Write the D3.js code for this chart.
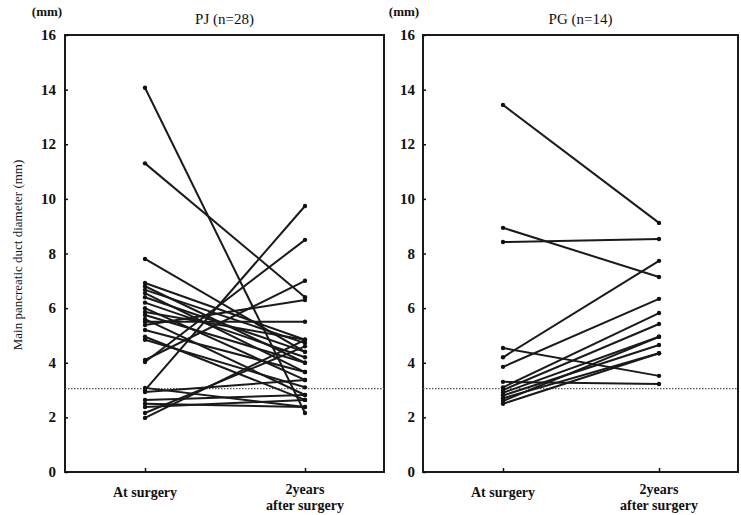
<!DOCTYPE html>
<html><head><meta charset="utf-8">
<script src="https://cdn.jsdelivr.net/npm/d3@7"></script>
<style>body{margin:0;background:#fff}svg{display:block}text{font-family:"Liberation Serif","DejaVu Serif",serif;fill:#111}</style>
</head><body><svg id="c" width="741" height="515"></svg>
<script>
const groups = ["At surgery", "2years\nafter surgery"];
const yTicks = [0,2,4,6,8,10,12,14,16];
const refLine = 3.05;
const pjTitle = "PJ (n=28)";
const pgTitle = "PG (n=14)";
// PJ patients: value at surgery, value 2 years after
const pjBefore = [14.07,11.3,7.8,3.0,4.03,4.1,5.5,6.92,6.8,6.67,6.55,6.4,6.2,6.0,5.86,5.75,5.6,5.38,5.2,4.95,4.84,2.93,2.64,2.38,2.5,2.16,1.98,3.08];
const pjAfter  = [2.16,6.4,4.4,9.74,8.5,7.0,5.5,4.84,4.0,4.72,3.66,4.4,4.2,3.37,4.84,4.0,2.82,6.3,3.66,2.64,3.1,3.37,2.82,2.64,2.38,4.6,4.84,2.38];
const pgBefore = [13.44,8.94,8.42,4.2,4.54,3.3,3.85,3.1,3.0,2.9,2.8,2.7,2.6,2.5];
const pgAfter  = [9.12,7.14,8.53,7.73,3.52,3.22,6.34,5.82,5.42,4.95,4.65,4.35,4.95,4.35];

const svg = d3.select("#c");
const y = d3.scaleLinear().domain([0,16]).range([472,35]);

function panel(x0, x1, title, before, after, labelRight, mmX) {
  const x = d3.scalePoint().domain(groups).range([x0 + 80, x1 - 79]);
  const g = svg.append("g");
  // box
  g.append("rect").attr("x", x0).attr("y", y(16)).attr("width", x1 - x0).attr("height", y(0) - y(16))
    .attr("fill", "none").attr("stroke", "#1a1a1a").attr("stroke-width", 2);
  // y axis
  const ay = g.append("g").attr("transform", `translate(${x0},0)`)
    .call(d3.axisRight(y).tickValues(yTicks).tickSize(3).tickFormat(""));
  ay.select(".domain").remove();
  ay.selectAll("line").attr("stroke", "#111").attr("stroke-width", 1.5);
  g.selectAll(".yl").data(yTicks).enter().append("text")
    .attr("x", labelRight).attr("y", d => y(d) + 5).attr("text-anchor", "end")
    .style("font-size", "15px").style("font-weight", "bold").text(d => d);
  g.append("text").attr("x", mmX).attr("y", 16).attr("text-anchor", "middle")
    .style("font-size", "13px").style("font-weight", "bold").text("(mm)");
  // x axis ticks
  const ax = g.append("g").attr("transform", `translate(0,${y(0)})`)
    .call(d3.axisTop(x).tickSize(4).tickFormat(""));
  ax.select(".domain").remove();
  ax.selectAll("line").attr("stroke", "#111").attr("stroke-width", 1.5);
  groups.forEach(gr => {
    const parts = gr.split("\n");
    parts.forEach((p, i) => {
      g.append("text").attr("x", x(gr)).attr("y", parts.length === 1 ? 497 : 494 + i * 16)
        .attr("text-anchor", "middle").style("font-size", "14px").style("font-weight", "bold").text(p);
    });
  });
  // title
  g.append("text").attr("x", (x0 + x1) / 2).attr("y", 24).attr("text-anchor", "middle")
    .style("font-size", "15px").text(title);
  // reference dotted line
  g.append("line").attr("x1", x0).attr("x2", x1).attr("y1", y(refLine)).attr("y2", y(refLine))
    .attr("stroke", "#555").attr("stroke-width", 1.2).attr("stroke-dasharray", "1.5,1.5");
  // lines
  const data = before.map((b, i) => ({b, a: after[i]}));
  g.selectAll(".pl").data(data).enter().append("line")
    .attr("x1", x(groups[0])).attr("x2", x(groups[1]))
    .attr("y1", d => y(d.b)).attr("y2", d => y(d.a))
    .attr("stroke", "#1a1a1a").attr("stroke-width", 2);
  const pts = data.flatMap(d => [[groups[0], d.b], [groups[1], d.a]]);
  g.selectAll(".pt").data(pts).enter().append("circle")
    .attr("cx", d => x(d[0])).attr("cy", d => y(d[1])).attr("r", 2.2).attr("fill", "#111");
}
panel(65, 384, pjTitle, pjBefore, pjAfter, 56, 47);
panel(423, 738, pgTitle, pgBefore, pgAfter, 415, 404);
// y axis label
svg.append("text").attr("transform", "translate(22,255) rotate(-90)").attr("text-anchor", "middle")
  .style("font-size", "13px").text("Main pancreatic duct diameter (mm)");
</script></body></html>
